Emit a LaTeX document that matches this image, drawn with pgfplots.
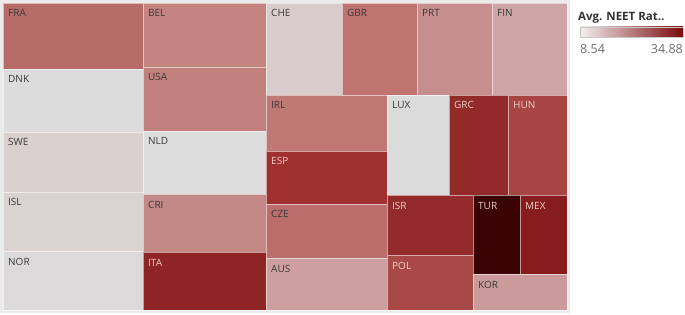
\documentclass[border=0pt]{standalone}
\usepackage{pgfplots}
\pgfplotsset{compat=1.18}
\usepackage{fontspec}
\setmainfont{Open Sans}
\definecolor{txtdark}{HTML}{3A3A3A}
\definecolor{txtlight}{HTML}{EDCFC6}
\newcommand{\cell}[7]{%
  \addplot[fill=#6, draw=white, draw opacity=0.55, line width=0.9pt] coordinates {(#1,#2) (#3,#2) (#3,#4) (#1,#4)} -- cycle;
  \node[anchor=base west, text=#7, font=\fontsize{10}{11}\selectfont, inner sep=0pt] at (axis cs:{#1+5},{#2+14}) {#5};
}
\begin{document}
\begin{tikzpicture}
\begin{axis}[
  scale only axis, width=685pt, height=315pt,
  xmin=0, xmax=685, ymin=0, ymax=315, y dir=reverse,
  hide axis, clip=false,
]
\addplot[fill=white, draw=none] coordinates {(0,0) (685,0) (685,315) (0,315)} -- cycle;
\addplot[fill={rgb,255:red,235;green,235;blue,235}, draw=none] coordinates {(0,0) (570,0) (570,313) (0,313)} -- cycle;
\cell{3}{3}{143}{69}{FRA}{{rgb,255:red,184;green,108;blue,106}}{txtdark}
\cell{3}{69}{143}{132}{DNK}{{rgb,255:red,220;green,220;blue,220}}{txtdark}
\cell{3}{132}{143}{192}{SWE}{{rgb,255:red,217;green,208;blue,207}}{txtdark}
\cell{3}{192}{143}{251}{ISL}{{rgb,255:red,218;green,211;blue,210}}{txtdark}
\cell{3}{251}{143}{310}{NOR}{{rgb,255:red,220;green,218;blue,219}}{txtdark}
\cell{143}{3}{266}{67}{BEL}{{rgb,255:red,196;green,132;blue,128}}{txtdark}
\cell{143}{67}{266}{131}{USA}{{rgb,255:red,194;green,128;blue,125}}{txtdark}
\cell{143}{131}{266}{194}{NLD}{{rgb,255:red,221;green,221;blue,221}}{txtdark}
\cell{143}{194}{266}{252}{CRI}{{rgb,255:red,196;green,136;blue,134}}{txtdark}
\cell{143}{252}{266}{310}{ITA}{{rgb,255:red,142;green,36;blue,36}}{txtlight}
\cell{266}{3}{342}{95}{CHE}{{rgb,255:red,216;green,204;blue,204}}{txtdark}
\cell{342}{3}{417}{95}{GBR}{{rgb,255:red,191;green,116;blue,114}}{txtdark}
\cell{417}{3}{492}{95}{PRT}{{rgb,255:red,198;green,142;blue,140}}{txtdark}
\cell{492}{3}{567}{95}{FIN}{{rgb,255:red,207;green,166;blue,165}}{txtdark}
\cell{266}{95}{387}{151}{IRL}{{rgb,255:red,192;green,120;blue,116}}{txtdark}
\cell{266}{151}{387}{204}{ESP}{{rgb,255:red,160;green,48;blue,48}}{txtlight}
\cell{266}{204}{387}{258}{CZE}{{rgb,255:red,187;green,110;blue,108}}{txtdark}
\cell{266}{258}{387}{310}{AUS}{{rgb,255:red,205;green,160;blue,159}}{txtdark}
\cell{387}{95}{449}{195}{LUX}{{rgb,255:red,220;green,219;blue,219}}{txtdark}
\cell{449}{95}{508}{195}{GRC}{{rgb,255:red,146;green,42;blue,42}}{txtlight}
\cell{508}{95}{567}{195}{HUN}{{rgb,255:red,168;green,68;blue,66}}{txtlight}
\cell{387}{195}{473}{255}{ISR}{{rgb,255:red,147;green,42;blue,43}}{txtlight}
\cell{387}{255}{473}{310}{POL}{{rgb,255:red,169;green,73;blue,71}}{txtlight}
\cell{473}{195}{520}{274}{TUR}{{rgb,255:red,59;green,4;blue,4}}{txtlight}
\cell{520}{195}{567}{274}{MEX}{{rgb,255:red,134;green,28;blue,28}}{txtlight}
\cell{473}{274}{567}{310}{KOR}{{rgb,255:red,203;green,154;blue,154}}{txtdark}
% legend
\node[anchor=base west, inner sep=0pt, font=\fontsize{11.5}{13}\selectfont\bfseries, text={rgb,255:red,51;green,51;blue,51}] at (axis cs:578,21) {Avg. NEET Rat..};
\fill[left color={rgb,255:red,244;green,240;blue,240}, right color={rgb,255:red,122;green,10;blue,10}] (axis cs:580,27) rectangle (axis cs:683,37);
\draw[color={rgb,255:red,200;green,200;blue,200}, line width=0.6pt] (axis cs:580,27) rectangle (axis cs:683,37);
\node[anchor=base west, inner sep=0pt, font=\fontsize{12.5}{14}\selectfont, text={rgb,255:red,110;green,110;blue,110}] at (axis cs:580,54) {8.54};
\node[anchor=base east, inner sep=0pt, font=\fontsize{12.5}{14}\selectfont, text={rgb,255:red,110;green,110;blue,110}] at (axis cs:683,54) {34.88};
\end{axis}
\pgfresetboundingbox
\path (0,0) rectangle (685pt,315pt);
\end{tikzpicture}
\end{document}
